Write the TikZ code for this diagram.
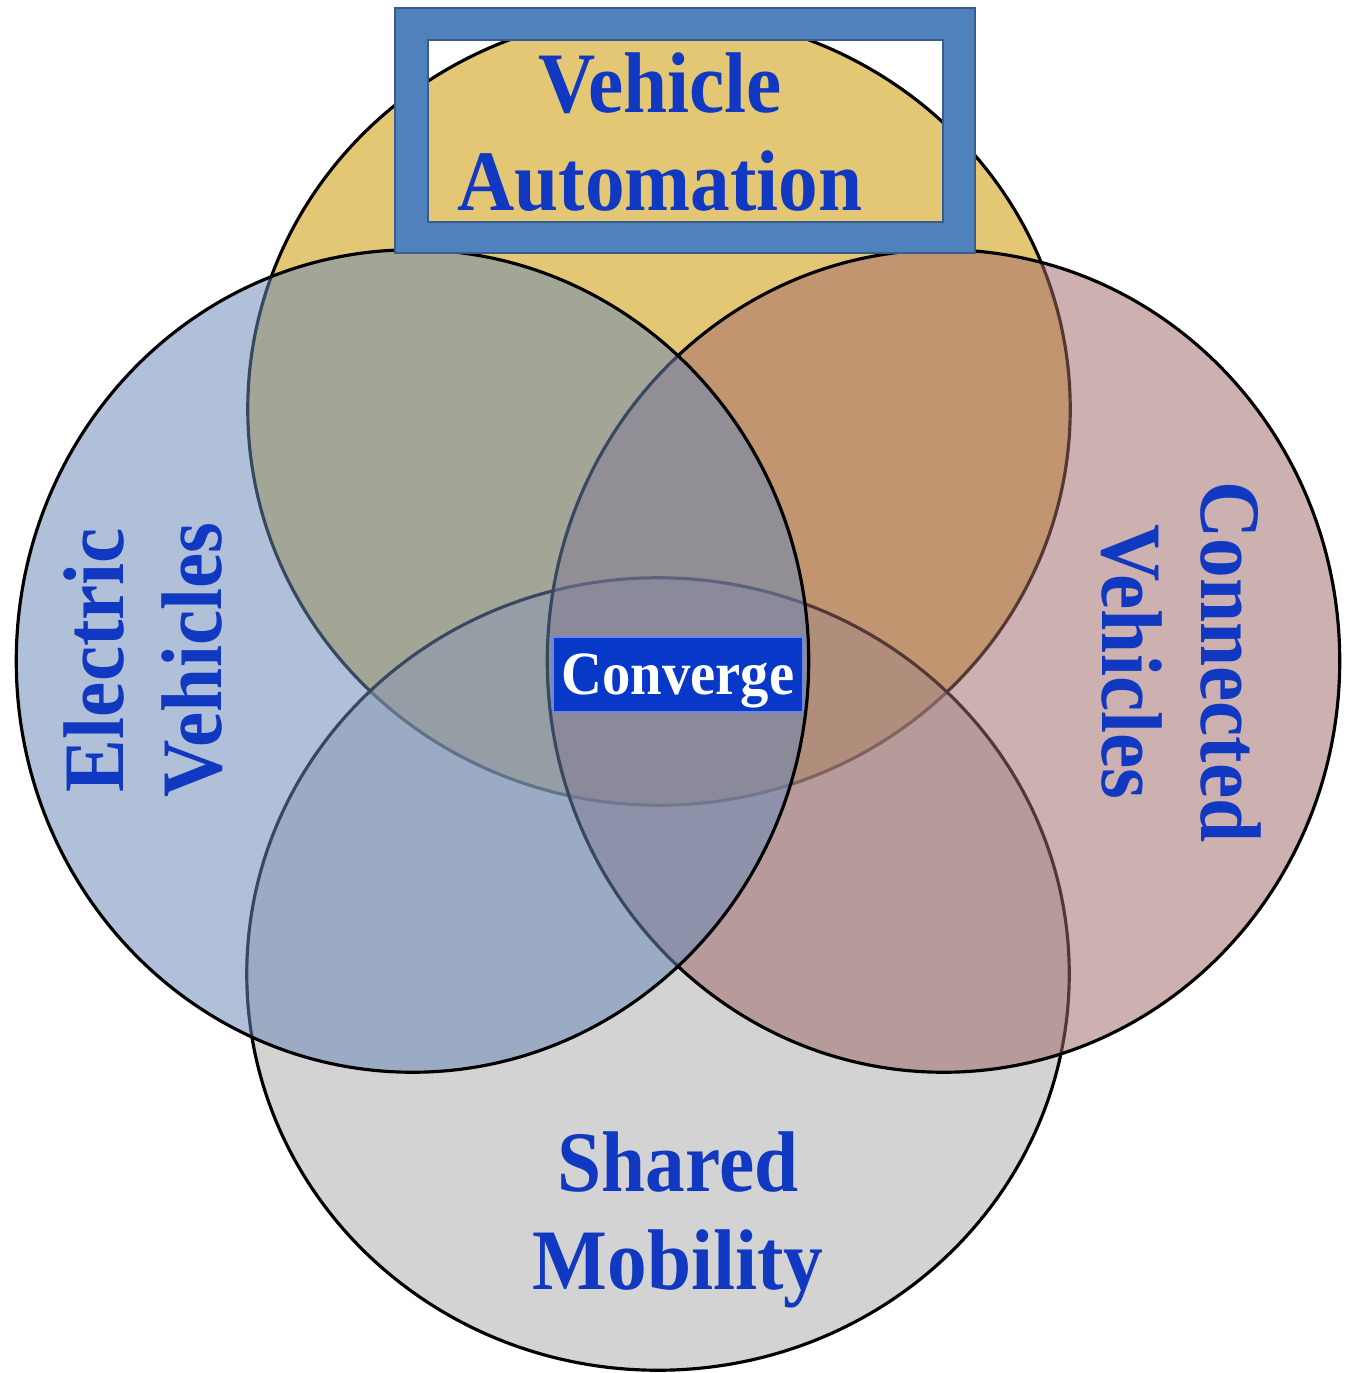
\documentclass[tikz,border=0pt]{standalone}
\usepackage{fontspec}
\setmainfont{Liberation Serif}[FakeStretch=0.92]

\definecolor{autoyellow}{RGB}{228,199,117}
\definecolor{evblue}{RGB}{106,136,183}
\definecolor{cvred}{RGB}{160,106,106}
\definecolor{smgray}{RGB}{172,172,172}
\definecolor{labelblue}{RGB}{16,56,192}
\definecolor{boxblue}{RGB}{79,129,189}
\definecolor{boxedge}{RGB}{56,93,138}
\definecolor{convblue}{RGB}{8,56,200}

\begin{document}
\begin{tikzpicture}[x=0.01cm,y=-0.01cm,
                set/.style={draw=black,line width=0.9pt,fill opacity=0.53},
                set label/.style={text=labelblue,align=center,inner sep=0pt,
                  font=\fontsize{24.5}{28}\selectfont\bfseries}]
                \useasboundingbox (0,0) rectangle (1357,1373);
                \path[set,fill=autoyellow,fill opacity=1] (659,409) ellipse [x radius=4.11cm,y radius=3.96cm];
                \path[set,fill=smgray] (658,974) ellipse [x radius=4.11cm,y radius=3.96cm];
                \path[set,fill=cvred] (943.5,661) ellipse [x radius=3.96cm,y radius=4.11cm];
                \path[set,fill=evblue] (412.5,661) ellipse [x radius=3.96cm,y radius=4.11cm];

                \draw[boxedge,line width=0.6pt,fill=boxblue,even odd rule]
                (395,8) rectangle (975,253) (428,40) rectangle (943,222);

                \node[set label] (va) at (660,132) {Vehicle\\Automation};
                \node[set label,rotate=90] (ev) at (143,660) {Electric\\Vehicles};
                \node[set label,rotate=-90] (cv) at (1181,662) {Connected\\Vehicles};
                \node[set label] (sm) at (678,1220) {Shared\\Mobility};
                \node[fill=convblue,draw=convblue!60!white,line width=0.4pt,text=white,
                  minimum width=2.5cm,minimum height=0.75cm,inner sep=0pt,text depth=0pt,
                  font=\fontsize{17.5}{20}\selectfont\bfseries] (conv) at (678,674.5) {Converge};
\end{tikzpicture}
\end{document}
